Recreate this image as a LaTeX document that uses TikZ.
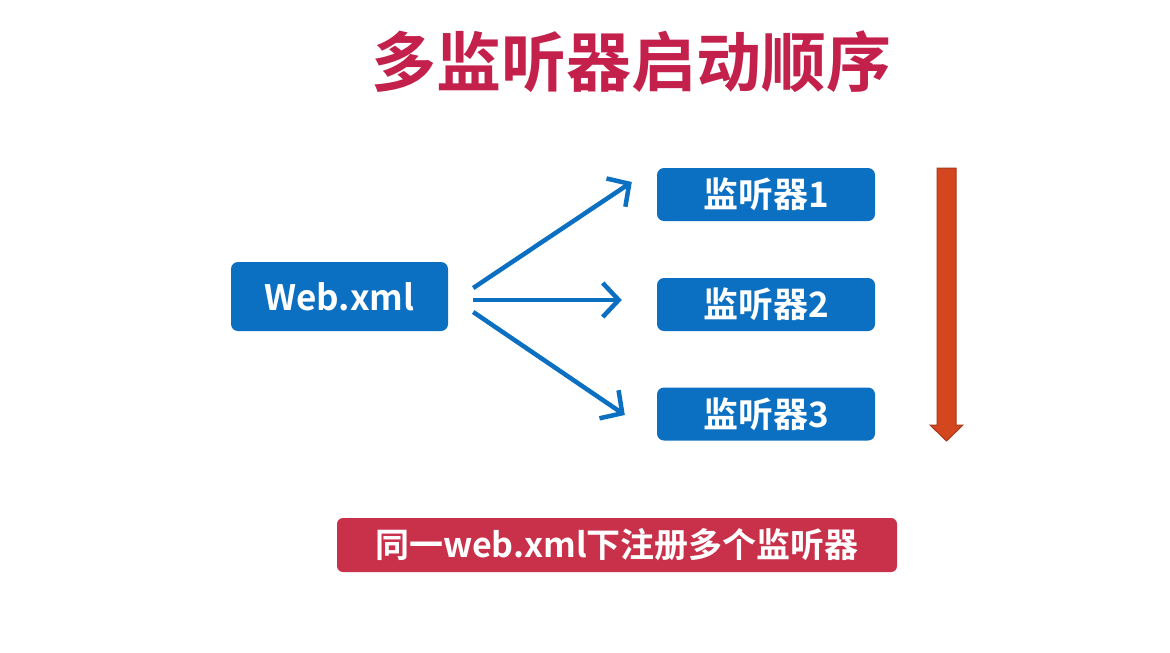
\documentclass[tikz,border=0pt]{standalone}
\usepackage{fontspec}
\setmainfont{Noto Sans CJK SC}[BoldFont={Noto Sans CJK SC Bold}]
\usetikzlibrary{arrows.meta}
\definecolor{boxblue}{HTML}{0B6FC2}
\definecolor{titlered}{HTML}{C4204C}
\definecolor{notered}{HTML}{C9314B}
\definecolor{orderfill}{HTML}{D4461E}
\definecolor{orderline}{HTML}{A63A1C}

\begin{document}
\begin{tikzpicture}[x=1pt, y=-1pt,
    box/.style = {fill=boxblue, rounded corners=7pt, text=white, font=\bfseries, inner sep=0pt},
    flow/.style = {draw=boxblue, line width=4.5pt, -{Straight Barb[length=16pt,width=34pt]}}]
    \useasboundingbox[fill=white] (0,0) rectangle (1170,653);

    \node[text=titlered, font=\bfseries\fontsize{65}{72}\selectfont] (title) at (631,62) {多监听器启动顺序};

    \node[box, minimum width=217pt, minimum height=69pt, font=\bfseries\fontsize{35}{40}\selectfont] (web) at (339.5,296.5) {Web.xml};
    \node[box, minimum width=218pt, minimum height=53pt, font=\bfseries\fontsize{35}{40}\selectfont] (l1) at (766,194.5) {监听器1};
    \node[box, minimum width=218pt, minimum height=53pt, font=\bfseries\fontsize{35}{40}\selectfont] (l2) at (766,304.5) {监听器2};
    \node[box, minimum width=218pt, minimum height=53pt, font=\bfseries\fontsize{35}{40}\selectfont] (l3) at (766,414) {监听器3};

    \draw[flow] ([shift={(25,-8.5)}]web.east) -- ([shift={(-25,-12.5)}]l1.west);
    \draw[flow] ([shift={(25,3.5)}]web.east) -- ([shift={(-35,-4.5)}]l2.west);
    \draw[flow] ([shift={(25,15.5)}]web.east) -- ([shift={(-32,1)}]l3.west);

    % order arrow
    \filldraw[fill=orderfill, draw=orderline, line width=1pt]
        (937,168) -- (956,168) -- (956,425) -- (963,425) -- (946.5,441)
        -- (930,425) -- (937,425) -- cycle;

    \node[fill=notered, rounded corners=6pt, text=white, minimum width=560pt, minimum height=54pt,
          inner sep=0pt, font=\bfseries\fontsize{34}{40}\selectfont] (note) at (617,545) {同一web.xml下注册多个监听器};
\end{tikzpicture}
\end{document}
